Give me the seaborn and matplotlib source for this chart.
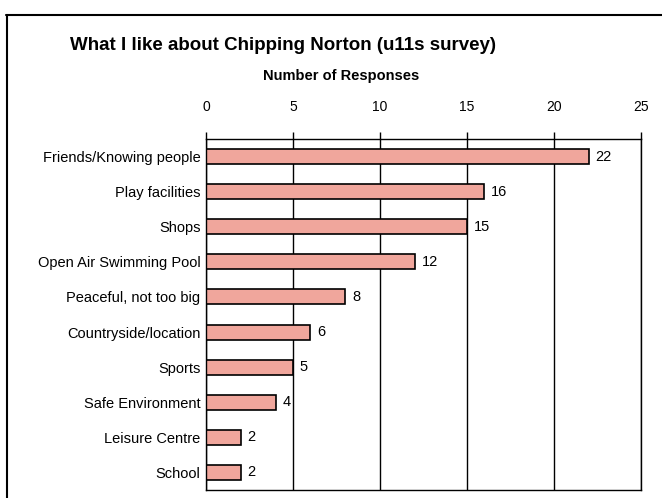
import numpy as np
import pandas as pd
import seaborn as sns
import matplotlib.pyplot as plt
from matplotlib.lines import Line2D

# survey data
categories = ["Friends/Knowing people", "Play facilities", "Shops",
              "Open Air Swimming Pool", "Peaceful, not too big",
              "Countryside/location", "Sports", "Safe Environment",
              "Leisure Centre", "School"]
responses = [22, 16, 15, 12, 8, 6, 5, 4, 2, 2]
xticks = [0, 5, 10, 15, 20, 25]

df = pd.DataFrame({"category": categories, "responses": responses})

sns.set_style("white")
plt.rcParams["font.family"] = ["Liberation Sans", "DejaVu Sans"]
plt.rcParams["text.color"] = "black"
plt.rcParams["xtick.color"] = "black"
plt.rcParams["ytick.color"] = "black"

fig = plt.figure(figsize=(6.62, 4.98), dpi=100)
ax = fig.add_axes([206 / 662, 1 - 490 / 498, 435 / 662, 351 / 498])

sns.barplot(data=df, y="category", x="responses", orient="h", ax=ax,
            color="#f0a69c", edgecolor="black", linewidth=1.2,
            width=0.43, saturation=1)

ax.set_xlim(0, 25)
ax.set_xticks(xticks)
ax.xaxis.tick_top()
ax.tick_params(axis="x", direction="out", length=5, width=1, color="black",
               labelsize=10, pad=13)
ax.grid(axis="x", color="black", linewidth=1)
ax.set_axisbelow(True)

# category ticks at the boundaries
ax.set_yticks(np.arange(len(categories)))
ax.set_yticklabels(categories, fontsize=10.5)
ax.tick_params(axis="y", which="major", length=0, pad=4)
ax.set_yticks(np.arange(len(categories) + 1) - 0.5, minor=True)
ax.tick_params(axis="y", which="minor", direction="out", length=5, width=1,
               color="black")
ax.set_ylim(len(categories) - 0.5, -0.5)

for s in ax.spines.values():
    s.set_color("black")
    s.set_linewidth(1)

ax.set_xlabel("")
ax.set_ylabel("")
for c in ax.containers:
    ax.bar_label(c, padding=5, fontsize=10.5)

fig.text(283 / 662, 1 - 45 / 498, "What I like about Chipping Norton (u11s survey)",
         ha="center", va="center", fontsize=13.5, fontweight="bold")
fig.text(341 / 662, 1 - 76 / 498, "Number of Responses",
         ha="center", va="center", fontsize=10.5, fontweight="bold")

# outer frame
fig.add_artist(Line2D([6 / 662, 1], [1 - 15 / 498] * 2, color="black", lw=1.5))
fig.add_artist(Line2D([7 / 662] * 2, [0, 1 - 15 / 498], color="black", lw=1.5))

fig.savefig("out.png", dpi=100)
